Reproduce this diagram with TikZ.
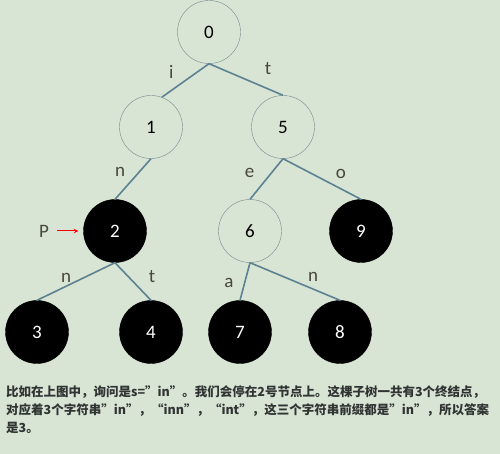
\documentclass[tikz,border=0pt]{standalone}
\usepackage{fontspec}
\setmainfont{Carlito}
\newfontfamily\cjk{Noto Sans CJK SC}
\usepackage{tikz}
\usetikzlibrary{arrows}
\usetikzlibrary{positioning}

\definecolor{bg}{RGB}{216,229,213}
\definecolor{edgeblue}{RGB}{92,130,146}
\definecolor{ringgray}{RGB}{118,138,142}
\definecolor{lblgray}{RGB}{72,72,62}
\definecolor{txtgray}{RGB}{48,52,50}

\begin{document}
\begin{tikzpicture}[
      x=1pt, y=1pt,
      trie/.style ={circle, draw=ringgray, fill=bg, minimum size=63pt, inner sep=0pt, font=\fontsize{19}{19}\selectfont},
      term/.style ={circle, draw=black, fill=black, text=white, minimum size=63pt, inner sep=0pt, font=\fontsize{19}{19}\selectfont},
      link/.style ={draw=edgeblue, line width=1.6pt},
      lbl/.style ={text=lblgray, font=\fontsize{19}{19}\selectfont},
      on grid
    ]
    \useasboundingbox [fill=bg] (-209,32) rectangle (291,-422) ;

    \node [trie] (n0) {0} ;
    \node [trie] (n1) [below left=95pt and 58pt of n0] {1} ;
    \node [trie] (n5) [below right=95pt and 74pt of n0] {5} ;
    \node [term] (n2) [below left=104pt and 36pt of n1] {2} ;
    \node [trie] (n6) [below left=104pt and 33pt of n5] {6} ;
    \node [term] (n9) [below right=104pt and 78pt of n5] {9} ;
    \node [term] (n3) [below left=101pt and 78pt of n2] {3} ;
    \node [term] (n4) [below right=101pt and 36pt of n2] {4} ;
    \node [term] (n7) [below left=101pt and 10pt of n6] {7} ;
    \node [term] (n8) [below right=101pt and 90pt of n6] {8} ;
    \node [lbl] (p) [left=71pt of n2] {P} ;

    \draw [link] (n0.south) -- node[lbl, xshift=-14pt, yshift=8pt] {i} (n1.70) ;
    \draw [link] (n0.south) -- node[lbl, xshift=22pt, yshift=11pt] {t} (n5.north) ;
    \draw [link] (n1.south) -- node[lbl, xshift=-13pt, yshift=7pt] {n} (n2.north) ;
    \draw [link] (n5.south) -- node[lbl, xshift=-17pt, yshift=6pt] {e} (n6.north) ;
    \draw [link] (n5.south) -- node[lbl, xshift=19pt, yshift=5pt] {o} (n9.north) ;
    \draw [link] (n2.south) -- node[lbl, xshift=-10pt, yshift=4pt] {n} (n3.north) ;
    \draw [link] (n2.south) -- node[lbl, xshift=19pt, yshift=5pt] {t} (n4.north) ;
    \draw [link] (n6.south) -- node[lbl, xshift=-16pt, yshift=-1pt] {a} (n7.north) ;
    \draw [link] (n6.south) -- node[lbl, xshift=18pt, yshift=5pt] {n} (n8.north) ;
    \draw [-stealth, red, line width=1pt, shorten <=5pt, shorten >=5pt] (p.east) -- (n2.west) ;

    \node [anchor=north west, align=left, inner sep=0pt, text=txtgray,
           font=\cjk\bfseries\fontsize{12.5}{18}\selectfont] (caption) at (-203,-353)
      {比如在上图中，询问是s=”in”。我们会停在2号节点上。这棵子树一共有3个终结点，\\
       对应着3个字符串”in”，“inn”，“int”，这三个字符串前缀都是”in”，所以答案\\
       是3。} ;
  \end{tikzpicture}
\end{document}
